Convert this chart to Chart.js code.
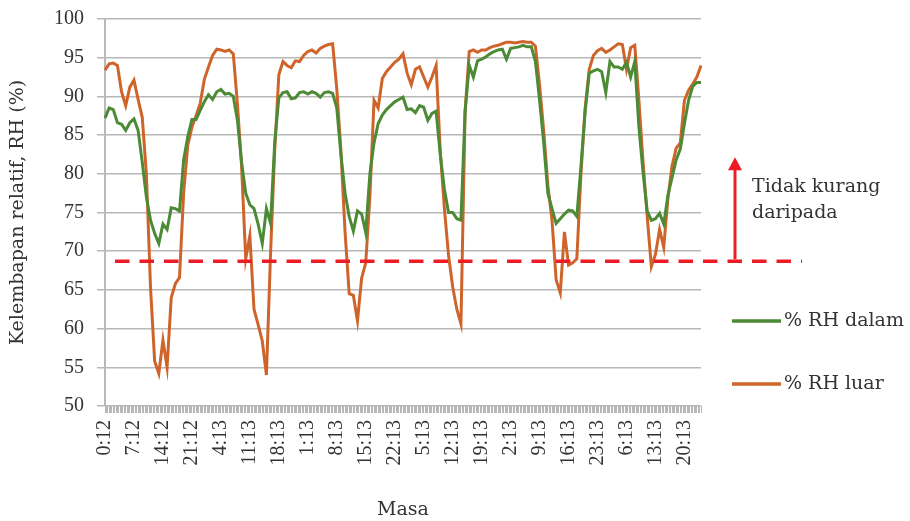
<!DOCTYPE html>
<html>
<head>
<meta charset="utf-8">
<script src="https://cdn.jsdelivr.net/npm/chart.js@4.4.1/dist/chart.umd.min.js"></script>
<style>
  html, body { margin: 0; padding: 0; background: #fff; }
  #wrap { width: 910px; height: 521px; position: relative; }
</style>
</head>
<body>
<div id="wrap"><canvas id="rh"></canvas></div>
<script>
// readings every 20 min, a time label every 7 h
const tickLabels = ['0:12', '7:12', '14:12', '21:12', '4:13', '11:13', '18:13', '1:13', '8:13', '15:13', '22:13',
  '5:13', '12:13', '19:13', '2:13', '9:13', '16:13', '23:13', '6:13', '13:13', '20:13'];
const stepsPerHour = 3;
const labelEvery = 21;

// hourly values
const rhDalam = [
  87.2, 88.5, 88.3, 86.6, 86.4, 85.6, 86.6, 87.1, 85.6, 81.5,
  77.0, 74.0, 72.3, 71.0, 73.5, 72.8, 75.6, 75.5, 75.2, 81.8,
  84.8, 87.0, 87.0, 88.2, 89.3, 90.2, 89.6, 90.6, 90.9, 90.3,
  90.4, 90.0, 86.9, 81.5, 77.5, 76.0, 75.5, 73.5, 71.0, 75.5,
  73.6, 84.0, 89.8, 90.5, 90.6, 89.7, 89.8, 90.5, 90.6, 90.3,
  90.6, 90.4, 89.9, 90.5, 90.6, 90.4, 88.5, 82.5, 77.5, 74.5,
  72.6, 75.2, 74.8, 72.4, 80.0, 84.0, 86.5, 87.6, 88.3, 88.8,
  89.3, 89.6, 89.9, 88.3, 88.4, 87.9, 88.8, 88.6, 86.9, 87.8,
  88.1, 82.5, 78.0, 75.0, 75.0, 74.2, 74.0, 88.0, 94.0, 92.5,
  94.6, 94.8, 95.1, 95.5, 95.8, 96.0, 96.1, 94.8, 96.2, 96.3,
  96.4, 96.6, 96.4, 96.4, 94.5, 89.5, 84.0, 77.5, 75.5, 73.6,
  74.2, 74.8, 75.3, 75.2, 74.5, 81.0, 88.0, 93.0, 93.3, 93.5,
  93.2, 90.5, 94.5, 93.8, 93.8, 93.5, 94.4, 92.5, 94.5, 86.0,
  80.2, 75.2, 74.0, 74.2, 74.9, 73.5, 77.2, 79.5, 81.8, 83.2,
  86.5, 89.5, 91.3, 91.8, 91.8
];
const rhLuar = [
  93.4, 94.2, 94.3, 94.0, 90.6, 88.8, 91.2, 92.1, 89.6, 87.3,
  80.0, 65.3, 55.8, 54.2, 58.5, 55.0, 64.0, 65.8, 66.6, 77.5,
  83.7, 86.0, 87.5, 89.1, 92.2, 93.8, 95.3, 96.1, 96.0, 95.8,
  96.0, 95.5, 89.0, 81.0, 69.0, 72.0, 62.5, 60.5, 58.4, 54.0,
  69.7, 83.0, 92.8, 94.5, 94.0, 93.7, 94.6, 94.5, 95.3, 95.8,
  96.0, 95.6, 96.2, 96.5, 96.7, 96.8, 91.0, 83.0, 72.5, 64.5,
  64.3, 61.0, 66.5, 68.5, 77.0, 89.5, 88.5, 92.3, 93.2, 93.8,
  94.4, 94.8, 95.5, 93.0, 91.5, 93.5, 93.8, 92.5, 91.2, 92.5,
  94.0, 83.0, 75.5, 69.5, 65.4, 62.5, 60.6, 88.0, 95.8, 96.0,
  95.7, 96.0, 96.0, 96.3, 96.5, 96.6, 96.8, 97.0, 97.0, 96.9,
  97.0, 97.1, 97.0, 97.0, 96.5, 91.5, 85.5, 78.5, 74.0, 66.3,
  64.6, 72.5, 68.2, 68.5, 69.0, 80.0, 88.5, 93.5, 95.3, 95.9,
  96.2, 95.7, 96.0, 96.4, 96.8, 96.7, 93.5, 96.3, 96.6, 89.5,
  81.5, 74.5, 68.0, 69.6, 72.8, 70.5, 76.8, 81.0, 83.3, 84.0,
  89.5, 90.8, 91.6, 92.5, 94.0
];
const limitRH = 68.7;
const noteLines = ['Tidak kurang', 'daripada'];

const nCat = (rhDalam.length - 1) * stepsPerHour + 1;
const categories = Array.from({ length: nCat }, (_, i) => (i % labelEvery === 0 ? tickLabels[i / labelEvery] : ''));
function spread(vals) {
  const out = new Array(nCat).fill(null);
  vals.forEach((v, h) => { out[h * stepsPerHour] = v; });
  return out;
}

const numFont = { family: "'Liberation Serif', serif", size: 20 };
const wordFont = { family: "'DejaVu Serif', serif", size: 19 };
const textColor = '#333333';
const gridColor = '#b8b8b8';
const red = '#ed1c24';

// limit line, arrow, note and legend
const extras = {
  id: 'extras',
  afterDatasetsDraw(chart) {
    const { ctx, chartArea: a, scales: { y } } = chart;
    const yLim = y.getPixelForValue(limitRH);
    ctx.save();
    ctx.strokeStyle = red;
    ctx.lineWidth = 3.5;
    ctx.setLineDash([14.5, 10]);
    ctx.beginPath();
    ctx.moveTo(a.left + 10, yLim);
    ctx.lineTo(a.right + 101, yLim);
    ctx.stroke();
    ctx.setLineDash([]);

    // arrow up
    const ax = a.right + 34;
    const tip = yLim - 104;
    ctx.lineWidth = 3;
    ctx.beginPath();
    ctx.moveTo(ax, yLim - 2);
    ctx.lineTo(ax, tip + 10);
    ctx.stroke();
    ctx.fillStyle = red;
    ctx.beginPath();
    ctx.moveTo(ax, tip);
    ctx.lineTo(ax + 7, tip + 13);
    ctx.lineTo(ax - 7, tip + 13);
    ctx.closePath();
    ctx.fill();

    ctx.fillStyle = textColor;
    ctx.font = `${wordFont.size}px ${wordFont.family}`;
    ctx.textAlign = 'left';
    ctx.textBaseline = 'alphabetic';
    noteLines.forEach((t, i) => ctx.fillText(t, a.right + 51, tip + 35 + i * 26));

    // legend
    ctx.textBaseline = 'middle';
    chart.data.datasets.forEach((ds, i) => {
      const ly = a.top + 302 + i * 63;
      ctx.strokeStyle = ds.borderColor;
      ctx.lineWidth = 3.5;
      ctx.beginPath();
      ctx.moveTo(a.right + 31, ly);
      ctx.lineTo(a.right + 80, ly);
      ctx.stroke();
      ctx.fillStyle = textColor;
      ctx.fillText(ds.label, a.right + 83, ly);
    });
    ctx.restore();
  }
};

new Chart(document.getElementById('rh'), {
  type: 'line',
  data: {
    labels: categories,
    datasets: [
      { label: '% RH dalam', data: spread(rhDalam), borderColor: '#4d8a35', spanGaps: true },
      { label: '% RH luar', data: spread(rhLuar), borderColor: '#cf642a', spanGaps: true }
    ]
  },
  options: {
    responsive: true,
    maintainAspectRatio: false,
    animation: false,
    layout: { padding: { left: 0, right: 209, top: 19, bottom: 0 } },
    elements: { point: { radius: 0 }, line: { borderWidth: 3, tension: 0 } },
    plugins: { legend: { display: false }, tooltip: { enabled: false } },
    scales: {
      x: {
        grid: { drawOnChartArea: false, tickLength: 7, color: gridColor, lineWidth: 1 },
        border: { display: false },
        ticks: { autoSkip: false, minRotation: 90, maxRotation: 90, padding: 7, color: textColor, font: numFont },
        title: { display: true, text: 'Masa', color: textColor, font: wordFont, padding: { top: 0, bottom: 0 } },
        afterFit: s => { s.height = 115; }
      },
      y: {
        min: 50,
        max: 100,
        ticks: { stepSize: 5, padding: 13, color: textColor, font: numFont },
        grid: { color: gridColor, lineWidth: 1.5, tickLength: 8 },
        border: { color: gridColor, width: 2 },
        title: { display: true, text: 'Kelembapan relatif, RH (%)', color: textColor, font: wordFont, padding: { top: 7, bottom: 0 } },
        afterFit: s => { s.width = 105; s.paddingTop = 0; s.paddingBottom = 0; }
      }
    }
  },
  plugins: [extras]
});
</script>
</body>
</html>
